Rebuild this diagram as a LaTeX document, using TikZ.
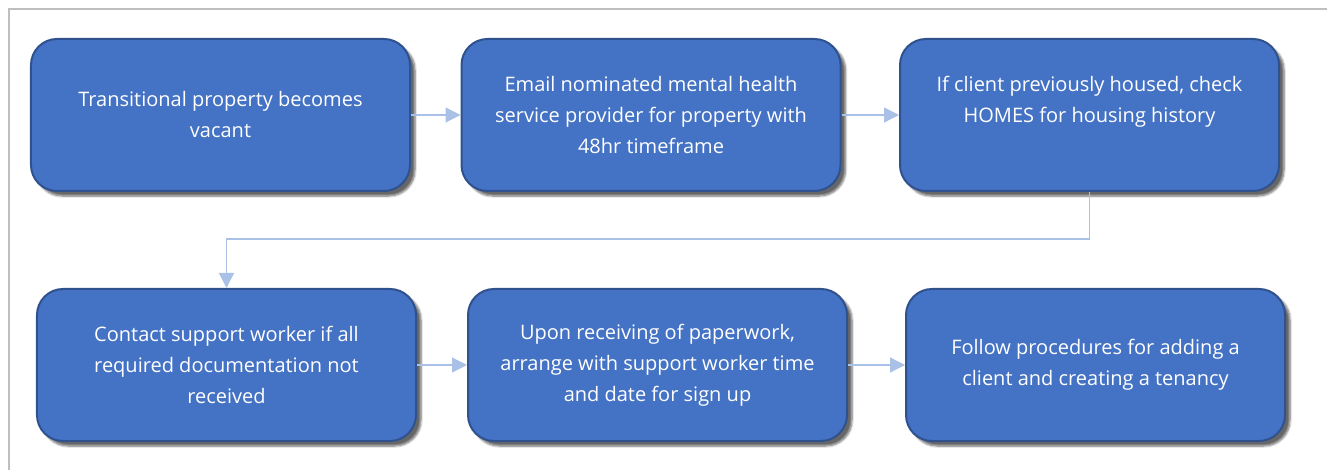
\documentclass[tikz,border=0pt]{standalone}
\usepackage{fontspec}
\setmainfont{Open Sans}
\usepackage{tikz}
\usetikzlibrary{shapes,arrows.meta,positioning,shadows,shadows.blur}
\definecolor{boxblue}{HTML}{4472C4}
\definecolor{boxedge}{HTML}{2F528F}
\definecolor{linkblue}{HTML}{A9C1E6}
\definecolor{framegray}{HTML}{BFBFBF}
\tikzstyle{stepbox}=[draw=boxedge, line width=2bp, fill=boxblue, rounded corners=26bp,
    minimum width=379bp, minimum height=152bp, inner sep=0pt, text=white, align=center,
    font=\fontsize{20bp}{31bp}\selectfont,
    blur shadow={shadow xshift=5bp, shadow yshift=-5bp, shadow blur steps=6, shadow blur extra rounding=2bp, shadow opacity=60}]
\tikzstyle{link}=[draw=linkblue, line width=1.3bp, -{Triangle[length=15bp,width=15bp]}]

\begin{document}
\begin{tikzpicture}[x=1bp,y=-1bp]
\useasboundingbox (0,0) rectangle (1327,470);

% frame
\draw[framegray, line width=1.5bp] (9,480) -- (9,9) -- (1340,9);

% first row
\node[stepbox] (vacant) at (220.5,115) {Transitional property becomes\\vacant};
\node[stepbox] (email) at (651,115) {Email nominated mental health\\service provider for property with\\48hr timeframe};
\node[stepbox] (homes) at (1089.5,115) {If client previously housed, check\\HOMES for housing history\\\mbox{}};

% second row
\node[stepbox] (contact) at (226.5,365) {Contact support worker if all\\required documentation not\\received};
\node[stepbox] (paper) at (657.5,365) {Upon receiving of paperwork,\\arrange with support worker time\\and date for sign up};
\node[stepbox] (tenancy) at (1095.5,365) {Follow procedures for adding a\\client and creating a tenancy};

% links
\draw[link] (vacant) -- (email);
\draw[link] (email) -- (homes);
\coordinate (turn) at (1089.5,239);
\draw[link] (homes.south) -- (turn) -| (contact.north);
\draw[link] (contact) -- (paper);
\draw[link] (paper) -- (tenancy);

\end{tikzpicture}
\end{document}
